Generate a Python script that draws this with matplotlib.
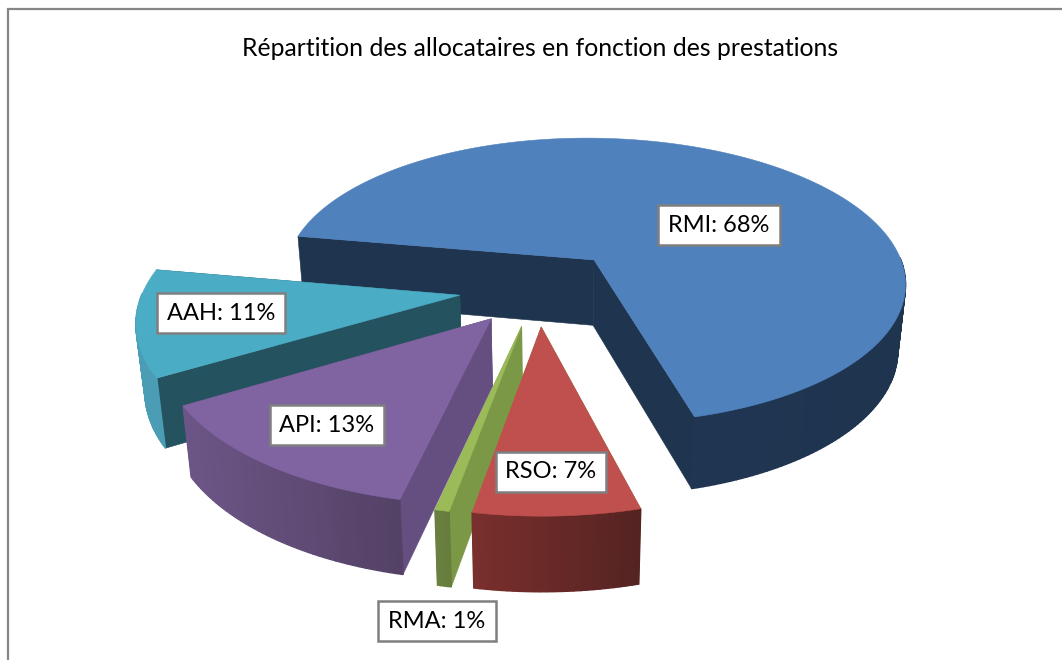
import numpy as np
import matplotlib
matplotlib.use('Agg')
import matplotlib.pyplot as plt
from matplotlib.colors import to_rgb
from matplotlib.patches import Polygon

# Data
categories = ['RMI', 'RSO', 'RMA', 'API', 'AAH']
values = [68.1, 7.0, 0.6, 13.0, 11.3]
title = 'Répartition des allocataires en fonction des prestations'

# Styles of the slices
top_colors = ['#4F81BD', '#C0504D', '#9BBB59', '#8064A2', '#4BACC6']
cut_colors = ['#1F344E', '#7A9845', '#7A9845', '#654F80', '#24535F']
rim_left = ['#21375A', '#7A2F2D', '#6A8040', '#6C5687', '#4A9DB4']
rim_right = ['#1F344E', '#542321', '#667C3C', '#544165', '#4A9DB4']
explode = [0.27, 0.25, 0.25, 0.245, 0.25]
label_pos = [(719, 225), (551, 472), (437, 621), (327, 425), (221, 313)]
draw_order = [0, 4, 3, 2, 1]

# Projection of the pie plane to pixels
START = 280.0
CX, CY = 538.0, 288.5
A, B, P = 316.0, 148.0, 0.15


def project(u, v):
    w = 1.0 / (1.0 + P * v)
    return CX + A * u * w, CY - B * v * w


def drop(x, y):
    # point of the bottom face under a point of the top face
    return x + (550 - x) * 0.022, y + 55 + 0.04 * y


def lighten(c1, c2, f):
    a, b = np.array(to_rgb(c1)), np.array(to_rgb(c2))
    return a + (b - a) * f


fig = plt.figure(figsize=(10.62, 6.6), dpi=100)
ax = fig.add_axes([0, 0, 1, 1])
ax.set_xlim(0, 1062)
ax.set_ylim(660, 0)
ax.axis('off')

# Chart frame
ax.plot([7.5, 7.5, 1062], [660, 8.5, 8.5], color='#868686', lw=1.6, solid_joinstyle='miter')

fracs = np.array(values) / sum(values) * 360
starts = START + np.concatenate([[0], np.cumsum(fracs)[:-1]])

for i in draw_order:
    z = 2 + draw_order.index(i)
    a0 = starts[i]
    a1 = a0 + fracs[i]
    mid = np.radians((a0 + a1) / 2)
    u0, v0 = explode[i] * np.sin(mid), explode[i] * np.cos(mid)
    th = np.radians(np.linspace(a0, a1, max(int(fracs[i]), 4) + 1))
    xs, ys = project(u0 + np.sin(th), v0 + np.cos(th))
    bx, by = drop(xs, ys)
    ax0, ay0 = project(u0, v0)
    abx, aby = drop(ax0, ay0)

    # cut faces at both ends of the slice
    faces = [[(ax0, ay0), (xs[0], ys[0]), (bx[0], by[0]), (abx, aby)],
             [(ax0, ay0), (xs[-1], ys[-1]), (bx[-1], by[-1]), (abx, aby)]]
    for face in faces:
        ax.add_patch(Polygon(face, fc=cut_colors[i], ec=cut_colors[i], lw=0.4, zorder=z))

    # rim wall, only the part that faces the viewer
    order = np.argsort(ys[:-1] + ys[1:])
    for k in order:
        if np.cos((th[k] + th[k + 1]) / 2) > 0.02:
            continue
        xm = (xs[k] + xs[k + 1]) / 2
        f = (xm - xs.min()) / max(xs.max() - xs.min(), 1)
        c = lighten(rim_left[i], rim_right[i], f)
        ax.add_patch(Polygon([(xs[k], ys[k]), (xs[k + 1], ys[k + 1]), (bx[k + 1], by[k + 1]), (bx[k], by[k])],
                             fc=c, ec=c, lw=1.0, zorder=z))

    # top face
    ax.add_patch(Polygon(np.column_stack([np.r_[ax0, xs], np.r_[ay0, ys]]), fc=top_colors[i], ec=top_colors[i],
                         lw=0.4, zorder=z))

# Labels
font = ['Lato', 'DejaVu Sans']
ax.text(540, 48, title, ha='center', va='center', fontsize=17.8, family=font, color='black')
for name, val, pos in zip(categories, values, label_pos):
    ax.text(pos[0], pos[1], f'{name}: {val:.0f}%', ha='center', va='center', fontsize=17, family=font, zorder=20,
            bbox=dict(boxstyle='square,pad=0.42', fc='white', ec='#7F7F7F', lw=1.8))

fig.savefig('out.png', dpi=100)
